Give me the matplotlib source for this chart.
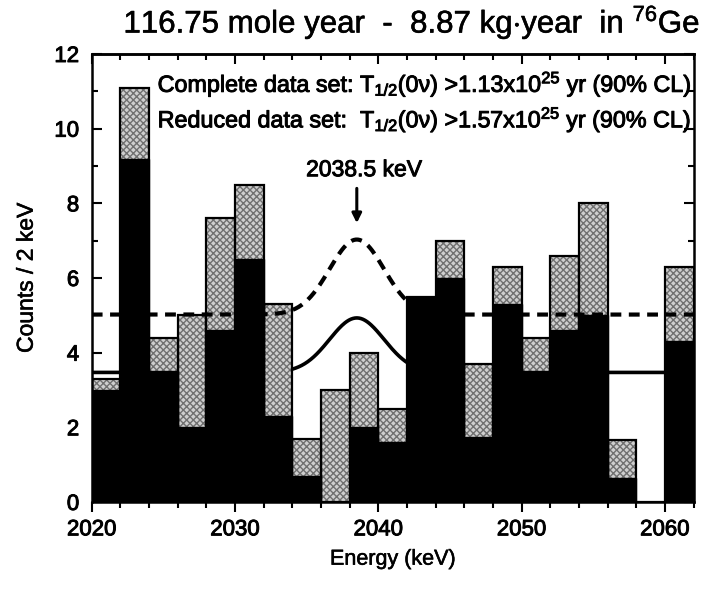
import numpy as np
import matplotlib
matplotlib.use("Agg")
import matplotlib.pyplot as plt
import matplotlib.patheffects as pe
from matplotlib.ticker import MultipleLocator

plt.rcParams['font.family'] = ['Liberation Sans', 'DejaVu Sans']
plt.rcParams['mathtext.fontset'] = 'custom'
plt.rcParams['mathtext.rm'] = 'Liberation Sans'
plt.rcParams['mathtext.it'] = 'Liberation Sans:italic'
plt.rcParams['mathtext.bf'] = 'Liberation Sans:bold'

# ---- data ----
bin_left = [2020, 2022, 2024, 2026, 2028, 2030, 2032, 2034, 2036, 2038, 2040,
            2042, 2044, 2046, 2048, 2050, 2052, 2054, 2056, 2058, 2060]
complete_counts = [3.3, 11.1, 4.4, 5.0, 7.6, 8.5, 5.3, 1.7, 3.0, 4.0, 2.5,
                   5.5, 7.0, 3.7, 6.3, 4.4, 6.6, 8.0, 1.65, 0.0, 6.3]
reduced_counts = [3.0, 9.2, 3.5, 2.0, 4.6, 6.5, 2.3, 0.7, 0.0, 2.0, 1.6,
                  5.5, 6.0, 1.75, 5.3, 3.5, 4.6, 5.0, 0.65, 0.0, 4.3]
bin_width = 2.0

# fit curves (background + gaussian line at Q-value)
q_value = 2038.5
peak_sigma = 1.9
solid_bkg, solid_amp = 3.47, 1.46     # reduced data set fit
dashed_bkg, dashed_amp = 5.02, 2.01   # complete data set fit

x_ticks = [2020, 2030, 2040, 2050, 2060]
y_ticks = [0, 2, 4, 6, 8, 10, 12]

heavy = [pe.withStroke(linewidth=0.7, foreground='black')]

# ---- figure ----
fig = plt.figure(figsize=(7.04, 5.90), dpi=100)
ax = fig.add_axes([0.1303, 0.1492, 0.8548, 0.7593])

ex = np.linspace(2020, 2062, 600)
solid = solid_bkg + solid_amp * np.exp(-(ex - q_value) ** 2 / (2 * peak_sigma ** 2))
dashed = dashed_bkg + dashed_amp * np.exp(-(ex - q_value) ** 2 / (2 * peak_sigma ** 2))

ax.plot(ex, solid, color='black', lw=2.6, zorder=1, solid_capstyle='butt')

# complete data set: halftone gray
ax.bar(bin_left, complete_counts, width=bin_width, align='edge',
       color='#cfcfcf', edgecolor='#707070', hatch='xxxxx', linewidth=0, zorder=2)
ax.bar(bin_left, complete_counts, width=bin_width, align='edge',
       fill=False, edgecolor='black', linewidth=1.6, zorder=3)
# reduced data set: black
ax.bar(bin_left, reduced_counts, width=bin_width, align='edge',
       color='black', edgecolor='black', linewidth=1.0, zorder=4)

ax.plot(ex, dashed, color='black', lw=3.0, ls=(0, (2.6, 1.8)), zorder=5)

ax.set_xlim(2020, 2062)
ax.set_ylim(0, 12)
ax.set_xticks(x_ticks)
ax.set_yticks(y_ticks)
ax.xaxis.set_minor_locator(MultipleLocator(2))
ax.yaxis.set_minor_locator(MultipleLocator(1))
ax.tick_params(axis='both', which='both', labelsize=16, width=1.5, pad=5)
ax.tick_params(axis='y', which='both', direction='in', right=True, pad=9)
ax.tick_params(axis='x', which='both', direction='out', top=False)
ax.tick_params(which='major', length=7.5)
ax.tick_params(which='minor', length=4.5)
for lbl in ax.get_xticklabels() + ax.get_yticklabels():
    lbl.set_path_effects(heavy)
# inward top ticks via secondary axis
top = ax.secondary_xaxis('top')
top.set_xticks(x_ticks)
top.xaxis.set_minor_locator(MultipleLocator(2))
top.tick_params(which='both', direction='in', labeltop=False, width=1.5)
top.tick_params(which='major', length=7.5)
top.tick_params(which='minor', length=4.5)
top.spines['top'].set_linewidth(1.8)

for s in ax.spines.values():
    s.set_linewidth(1.8)
    s.set_zorder(10)

ax.set_xlabel('Energy (keV)', fontsize=15.5, labelpad=6, path_effects=[pe.withStroke(linewidth=0.4, foreground='black')])
ax.set_ylabel('Counts / 2 keV', fontsize=16.5, labelpad=12, path_effects=[pe.withStroke(linewidth=0.4, foreground='black')])

fig.text(0.585, 0.962, r'116.75 mole year  -  8.87 kg$\cdot$year  in $^{76}$Ge',
         ha='center', va='center', fontsize=22.5,
         path_effects=[pe.withStroke(linewidth=0.4, foreground='black')])

ax.text(2024.6, 11.2, r'Complete data set: T$_{1/2}$(0ν) >1.13x10$^{25}$ yr (90% CL)',
        fontsize=16.8, ha='left', va='center', zorder=6, path_effects=heavy)
ax.text(2024.6, 10.25, r'Reduced data set:  T$_{1/2}$(0ν) >1.57x10$^{25}$ yr (90% CL)',
        fontsize=16.8, ha='left', va='center', zorder=6, path_effects=heavy)

ax.annotate('', xy=(q_value, 7.47), xytext=(q_value, 8.4),
            arrowprops=dict(arrowstyle='-|>', color='black', lw=2.2,
                            mutation_scale=14, shrinkA=0, shrinkB=0), zorder=6)
ax.text(2039.0, 8.9, '2038.5 keV', fontsize=16.5, ha='center', va='center', zorder=6,
        path_effects=heavy)

fig.savefig('out.png', dpi=100)
